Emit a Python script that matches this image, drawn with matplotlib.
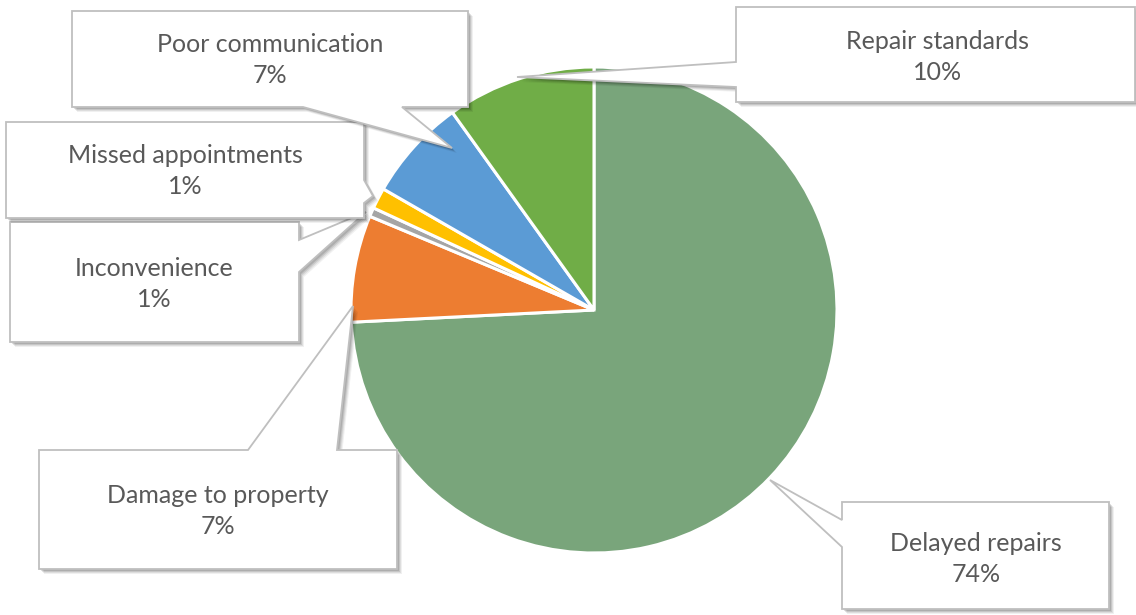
import matplotlib
matplotlib.use("Agg")
import matplotlib.pyplot as plt
from matplotlib.patches import Polygon

# ---- data ----
categories = ["Delayed repairs", "Damage to property", "Inconvenience",
              "Missed appointments", "Poor communication", "Repair standards"]
values = [74.2, 7.1, 0.6, 1.4, 6.8, 9.9]
pct_labels = ["74%", "7%", "1%", "1%", "7%", "10%"]
colors = ["#79A57B", "#ED7D31", "#A5A5A5", "#FFC000", "#5B9BD5", "#70AD47"]

W, H = 1136, 615
fig = plt.figure(figsize=(W / 100, H / 100), dpi=100)
ax = fig.add_axes([0, 0, 1, 1])
ax.set_xlim(0, W)
ax.set_ylim(0, H)
ax.set_aspect("equal")
ax.axis("off")


def Y(y):
    return H - y


# pie
cx, cy, r = 594, 310, 243
ax.pie(values, colors=colors, startangle=90, counterclock=False,
       center=(cx, Y(cy)), radius=r, frame=True,
       wedgeprops=dict(edgecolor="white", linewidth=2.2))
ax.set_xlim(0, W)
ax.set_ylim(0, H)
ax.axis("off")

# callouts: polygon (image px) and text center
callouts = {
    "Poor communication": ([(72, 11), (468, 11), (468, 107), (402, 107), (452, 148),
                            (303, 107), (72, 107)], (270, 60)),
    "Missed appointments": ([(6, 122), (364, 122), (364, 180), (373, 196), (364, 203),
                             (364, 218), (6, 218)], (185, 171)),
    "Inconvenience": ([(10, 222), (299, 222), (299, 240), (366, 212), (299, 272),
                       (299, 342), (10, 342)], (154, 284)),
    "Repair standards": ([(736, 7), (1135, 7), (1135, 102), (736, 102), (736, 87),
                          (517, 77), (736, 62)], (938, 57)),
    "Damage to property": ([(39, 450), (248, 450), (353, 306), (337, 450), (397, 450),
                            (397, 569), (39, 569)], (218, 511)),
    "Delayed repairs": ([(842, 502), (1109, 502), (1109, 609), (842, 609), (842, 547),
                         (770, 480), (842, 520)], (976, 559)),
}

for i, cat in enumerate(categories):
    pts, (tx, ty) = callouts[cat]
    # shadow
    for k, a in [(5, 0.06), (4, 0.08), (3, 0.10), (2, 0.12)]:
        sp = [(x + k, Y(y + k)) for x, y in pts]
        ax.add_patch(Polygon(sp, closed=True, facecolor="#000000", edgecolor="none",
                             alpha=a, zorder=5 + i * 2))
    bp = [(x, Y(y)) for x, y in pts]
    ax.add_patch(Polygon(bp, closed=True, facecolor="white", edgecolor="#BFBFBF",
                         linewidth=1.3, zorder=6 + i * 2, joinstyle="miter"))
    ax.text(tx, Y(ty), cat + "\n" + pct_labels[i], ha="center", va="center",
            fontsize=18, color="#595959", family=["Lato", "DejaVu Sans"],
            linespacing=1.42, zorder=7 + i * 2)

fig.savefig("out.png", dpi=100, facecolor="white")
